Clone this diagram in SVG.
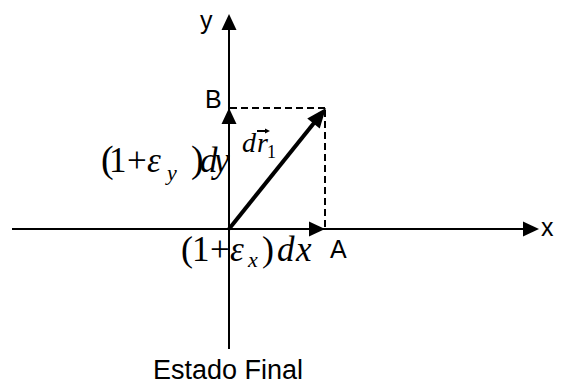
<svg xmlns="http://www.w3.org/2000/svg" width="568" height="385" viewBox="0 0 568 385">
<defs>
<style>
.axis{stroke:#000;stroke-width:2;fill:none}
.dash{stroke:#000;stroke-width:2;fill:none;stroke-dasharray:7 4}
.vec{stroke:#000;stroke-width:4;fill:none}
.lbl{font-family:"Liberation Sans",Arial,sans-serif;fill:#000}
.math{font-family:"Liberation Serif","Times New Roman",serif;fill:#000;font-size:35px}
.it{font-style:italic}
.sub{font-style:italic;font-size:22px}
</style>
<marker id="ah" markerUnits="userSpaceOnUse" markerWidth="16" markerHeight="15" refX="0" refY="7.5" orient="auto" overflow="visible">
<path d="M0,0 L16,7.5 L0,15 z" fill="#000"/>
</marker>
<marker id="ahv" markerUnits="userSpaceOnUse" markerWidth="20" markerHeight="16" refX="5" refY="8" orient="auto" overflow="visible">
<path d="M0,0 L20,8 L0,16 z" fill="#000"/>
</marker>
<marker id="ahs" markerUnits="userSpaceOnUse" markerWidth="5" markerHeight="5" refX="0" refY="2.5" orient="auto" overflow="visible">
<path d="M0,0 L5,2.5 L0,5 z" fill="#000"/>
</marker>
</defs>
<rect width="568" height="385" fill="#fff"/>
<g id="connectors">
<line id="x-axis" class="axis" x1="12" y1="229" x2="523" y2="229" marker-end="url(#ah)"/>
<line id="y-axis" class="axis" x1="229" y1="349" x2="229" y2="30" marker-end="url(#ah)"/>
<line id="vec-A" class="axis" x1="229" y1="229" x2="309" y2="229" marker-end="url(#ah)"/>
<line id="vec-B" class="axis" x1="229" y1="229" x2="229" y2="124" marker-end="url(#ah)"/>
<line id="dash-h" class="dash" x1="230" y1="108" x2="326" y2="108"/>
<line id="dash-v" class="dash" x1="325" y1="110" x2="325" y2="229"/>
<line id="vec-dr1" class="vec" x1="229" y1="229" x2="316.6" y2="119.7" marker-end="url(#ahv)"/>
</g>
<g id="label-y"><text class="lbl" x="200" y="29" font-size="25">y</text></g>
<g id="label-x"><text class="lbl" x="541" y="236" font-size="25">x</text></g>
<g id="label-B"><text class="lbl" x="205" y="108" font-size="25">B</text></g>
<g id="label-A"><text class="lbl" x="330" y="258" font-size="25">A</text></g>
<g id="label-title"><text class="lbl" x="153" y="379" font-size="27">Estado Final</text></g>
<g id="label-dy">
<text class="math" y="172"><tspan x="101" font-size="38">(</tspan><tspan x="109">1</tspan><tspan x="127">+</tspan><tspan class="it" x="147">ε</tspan><tspan class="sub" x="167" y="180">y</tspan><tspan x="191" y="172" font-size="38">)</tspan><tspan class="it" x="200">d</tspan><tspan class="it" x="214">y</tspan></text>
</g>
<g id="label-dx">
<text class="math" y="261"><tspan x="181" font-size="36">(</tspan><tspan x="192">1</tspan><tspan x="210">+</tspan><tspan class="it" x="230">ε</tspan><tspan class="sub" x="248" y="267">x</tspan><tspan x="262" y="261" font-size="36">)</tspan><tspan class="it" x="277">d</tspan><tspan class="it" x="296">x</tspan></text>
</g>
<g id="label-dr1">
<text class="math" y="152"><tspan class="it" x="242" font-size="28">d</tspan><tspan class="it" x="257" font-size="28">r</tspan><tspan x="267" y="158" font-size="18">1</tspan></text>
<line class="axis" x1="257" y1="131" x2="265" y2="131" stroke-width="1.2" marker-end="url(#ahs)"/>
</g>
</svg>
